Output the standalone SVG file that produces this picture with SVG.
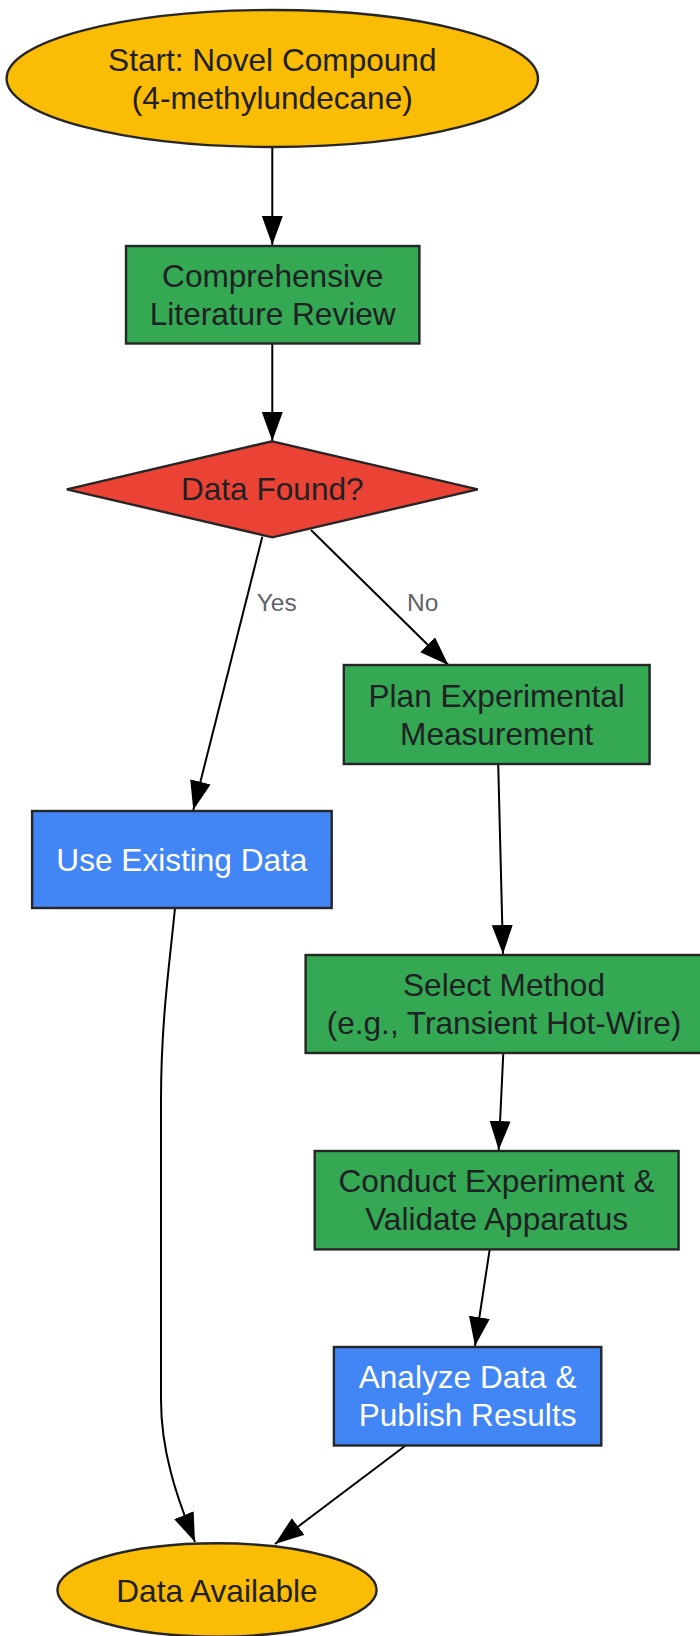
<svg xmlns="http://www.w3.org/2000/svg" width="700" height="1636" viewBox="0 0 700 1636">
  <style>
    .node { stroke: #262626; stroke-width: 2.4; }
    .yellow { fill: #FBBC05; }
    .green { fill: #34A853; }
    .red { fill: #EA4335; }
    .blue { fill: #4285F4; }
    .label { font-family: "Liberation Sans", Arial, sans-serif; font-size: 31.6px; text-anchor: middle; fill: #202124; }
    .light { fill: #ffffff; }
    .edge { fill: none; stroke: #000000; stroke-width: 2; }
    .elabel { font-family: "Liberation Sans", Arial, sans-serif; font-size: 24.5px; text-anchor: middle; fill: #5f6368; }
  </style>
  <defs>
    <marker id="arrow" markerUnits="userSpaceOnUse" markerWidth="30" markerHeight="22" refX="29" refY="10.5" orient="auto">
      <path d="M0,0 L29,10.5 L0,21 z" fill="#000000"/>
    </marker>
  </defs>
  <rect width="700" height="1636" fill="#ffffff"/>

  <g id="connectors">
    <path class="edge" d="M272.3,147 L272.3,245" marker-end="url(#arrow)"/>
    <path class="edge" d="M272.3,343.6 L272.3,441" marker-end="url(#arrow)"/>
    <path class="edge" d="M262.3,536.7 L193.3,810" marker-end="url(#arrow)"/>
    <path class="edge" d="M311,530 L448.3,665" marker-end="url(#arrow)"/>
    <path class="edge" d="M498.2,764 L503,954" marker-end="url(#arrow)"/>
    <path class="edge" d="M503.3,1053 L498.7,1150" marker-end="url(#arrow)"/>
    <path class="edge" d="M489.7,1249.4 L475,1346" marker-end="url(#arrow)"/>
    <path class="edge" d="M405,1446 L275,1544" marker-end="url(#arrow)"/>
    <path class="edge" d="M175,908 C170,960 161,1020 161,1100 L161,1400 C161,1450 176,1496 195,1542" marker-end="url(#arrow)"/>
    <text class="elabel" x="276.7" y="611">Yes</text>
    <text class="elabel" x="422.7" y="611">No</text>
  </g>

  <g id="start">
    <ellipse class="node yellow" cx="272.3" cy="78.5" rx="265.7" ry="68.5"/>
    <text class="label" x="272.3" y="70.5">Start: Novel Compound</text>
    <text class="label" x="272.3" y="108.5">(4-methylundecane)</text>
  </g>

  <g id="review">
    <rect class="node green" x="126" y="246" width="293.4" height="97.5"/>
    <text class="label" x="272.7" y="286.5">Comprehensive</text>
    <text class="label" x="272.7" y="324.5">Literature Review</text>
  </g>

  <g id="decision">
    <polygon class="node red" points="272.3,441.3 477.8,489.3 272.3,537.3 66.8,489.3"/>
    <text class="label" x="272.3" y="500">Data Found?</text>
  </g>

  <g id="plan">
    <rect class="node green" x="343.8" y="665" width="305.8" height="99"/>
    <text class="label" x="496.7" y="706.5">Plan Experimental</text>
    <text class="label" x="496.7" y="744.5">Measurement</text>
  </g>

  <g id="existing">
    <rect class="node blue" x="32.1" y="811" width="299.6" height="97"/>
    <text class="label light" x="181.9" y="870.5">Use Existing Data</text>
  </g>

  <g id="method">
    <rect class="node green" x="305.6" y="955" width="396.4" height="98"/>
    <text class="label" x="504" y="996">Select Method</text>
    <text class="label" x="504" y="1034">(e.g., Transient Hot-Wire)</text>
  </g>

  <g id="conduct">
    <rect class="node green" x="314.7" y="1151" width="363.9" height="98.4"/>
    <text class="label" x="496.6" y="1192">Conduct Experiment &amp;</text>
    <text class="label" x="496.6" y="1230">Validate Apparatus</text>
  </g>

  <g id="analyze">
    <rect class="node blue" x="333.9" y="1347" width="267.4" height="98.5"/>
    <text class="label light" x="467.6" y="1388">Analyze Data &amp;</text>
    <text class="label light" x="467.6" y="1426">Publish Results</text>
  </g>

  <g id="end">
    <ellipse class="node yellow" cx="217" cy="1590" rx="159.6" ry="46.7"/>
    <text class="label" x="217" y="1602">Data Available</text>
  </g>
</svg>
